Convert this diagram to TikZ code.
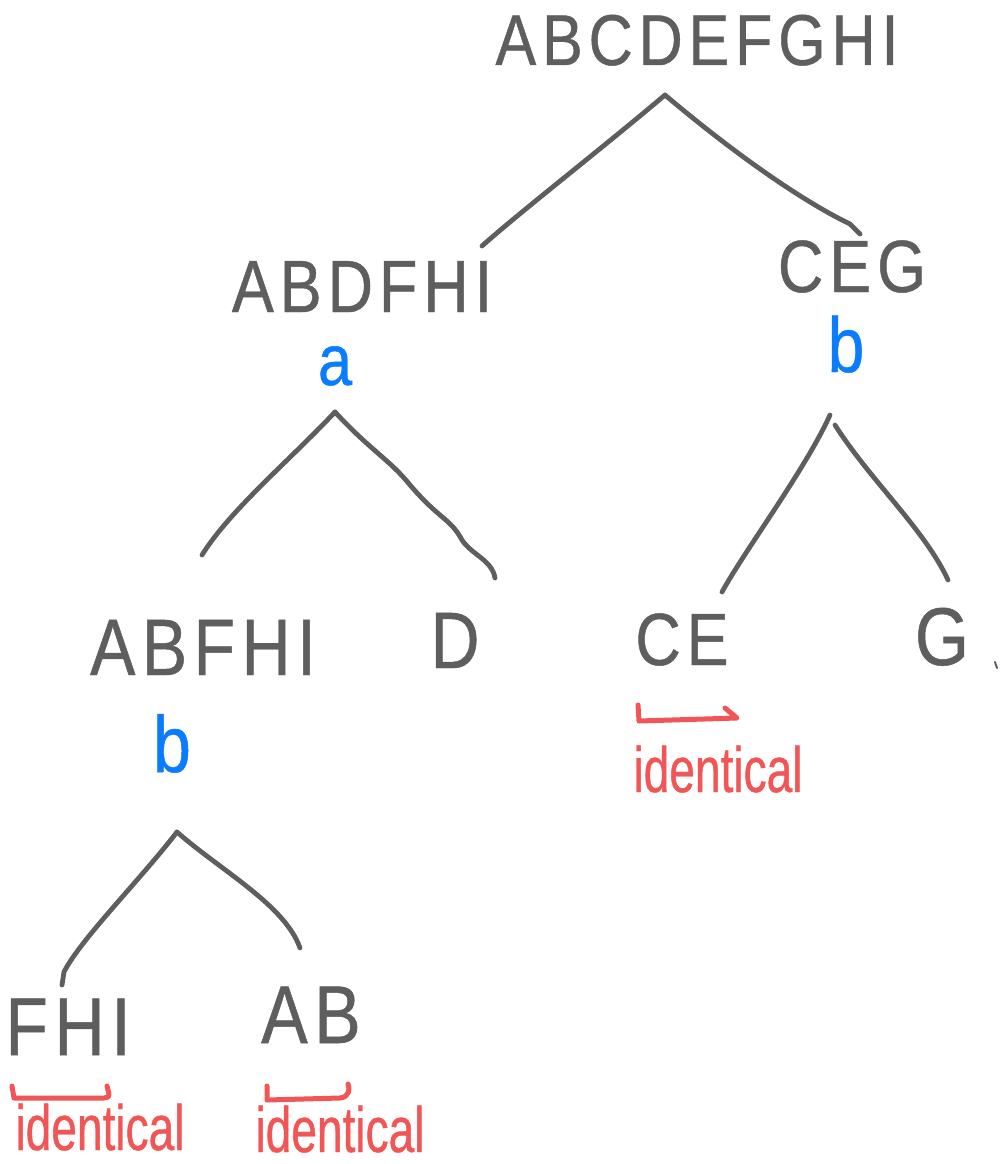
\documentclass[tikz,border=0pt]{standalone}
\usepackage{fontspec}
\newfontfamily\hand{Liberation Sans}[FakeStretch=0.85, LetterSpace=8, FakeBold=0.6]
\newfontfamily\handred{Liberation Sans}[FakeStretch=0.72, FakeBold=0.6]
\definecolor{ink}{HTML}{5E5E5E}
\definecolor{blueink}{HTML}{0A7CFF}
\definecolor{redink}{HTML}{F25555}
\begin{document}
\begin{tikzpicture}[x=1pt,y=-1pt,
  lbl/.style={text=ink, inner sep=0pt, anchor=base, font=\hand\fontsize{#1}{#1}\selectfont},
  blbl/.style={text=blueink, inner sep=0pt, anchor=base, font=\hand\fontsize{#1}{#1}\selectfont},
  rlbl/.style={text=redink, inner sep=0pt, anchor=base, font=\handred\fontsize{#1}{#1}\selectfont},
  edge/.style={draw=ink, line width=4.8pt, line cap=round, line join=round},
  brack/.style={draw=redink, line width=5pt, line cap=round, line join=round}]
\useasboundingbox (0,0) rectangle (1000,1164);
% labels
\node[lbl=72] (root) at (697,65) {ABCDEFGHI};
\node[lbl=74] (abdfhi) at (362,312) {ABDFHI};
\node[blbl=72] (a1) at (335,385) {a};
\node[lbl=74] (ceg) at (852,292) {CEG};
\node[blbl=78] (b1) at (846,372) {b};
\node[lbl=80] (abfhi) at (203,675) {ABFHI};
\node[lbl=80] (d) at (455,668) {D};
\node[blbl=80] (b2) at (172,772) {b};
\node[lbl=74] (ce) at (682,665) {CE};
\node[lbl=82] (g) at (942,665) {G};
\node[lbl=82] (fhi) at (68,1055) {FHI};
\node[lbl=82] (ab) at (311,1043) {AB};
\node[rlbl=64] (id1) at (718,792) {identical};
\node[rlbl=64] (id2) at (100,1150) {identical};
\node[rlbl=64] (id3) at (340,1152) {identical};
% connector coordinates
\coordinate (rt) at (665,95);
\coordinate (rl) at (482,246);
\coordinate (rr) at (860,234);
\coordinate (at) at (335,412);
\coordinate (al) at (202,555);
\coordinate (ar) at (495,578);
\coordinate (bt) at (830,415);
\coordinate (bt2) at (835,425);
\coordinate (bl) at (722,592);
\coordinate (br) at (948,580);
\coordinate (ct) at (177,832);
\coordinate (cl) at (62,985);
\coordinate (cr) at (300,948);
% connectors
\draw[edge] (rt) .. controls (600,150) and (520,212) .. (rl);
\draw[edge] (rt) .. controls (730,150) and (800,200) .. (850,224) -- (rr);
\draw[edge] (at) .. controls (290,460) and (230,510) .. (al);
\draw[edge] (at) .. controls (370,450) and (390,460) .. (410,485)
   .. controls (440,520) and (450,518) .. (462,540)
   .. controls (472,555) and (492,560) .. (ar);
\draw[edge] (bt) .. controls (805,470) and (745,550) .. (bl);
\draw[edge] (bt2) .. controls (870,480) and (925,530) .. (br);
\draw[edge] (ct) .. controls (140,880) and (80,940) .. (64,972) -- (cl);
\draw[edge] (ct) .. controls (220,870) and (285,905) .. (cr);
% small tick after G
\coordinate (gd1) at (995,662);
\coordinate (gd2) at (997,668);
\draw[edge, line width=2pt] (gd1) -- (gd2);
% red brackets
\coordinate (k1a) at (638,705); \coordinate (k1b) at (737,718); \coordinate (k1c) at (725,708);
\draw[brack] (k1a) -- (639,721) -- (k1b) -- (k1c);
\coordinate (k2a) at (12,1086); \coordinate (k2b) at (109,1094); \coordinate (k2c) at (107,1086);
\draw[brack] (k2a) -- (14,1098) -- (104,1098) .. controls (109,1097) .. (k2b) -- (k2c);
\coordinate (k3a) at (267,1086); \coordinate (k3b) at (348,1084);
\draw[brack] (k3a) -- (267,1100) -- (340,1098) .. controls (350,1097) and (350,1088) .. (k3b);
\end{tikzpicture}
\end{document}
